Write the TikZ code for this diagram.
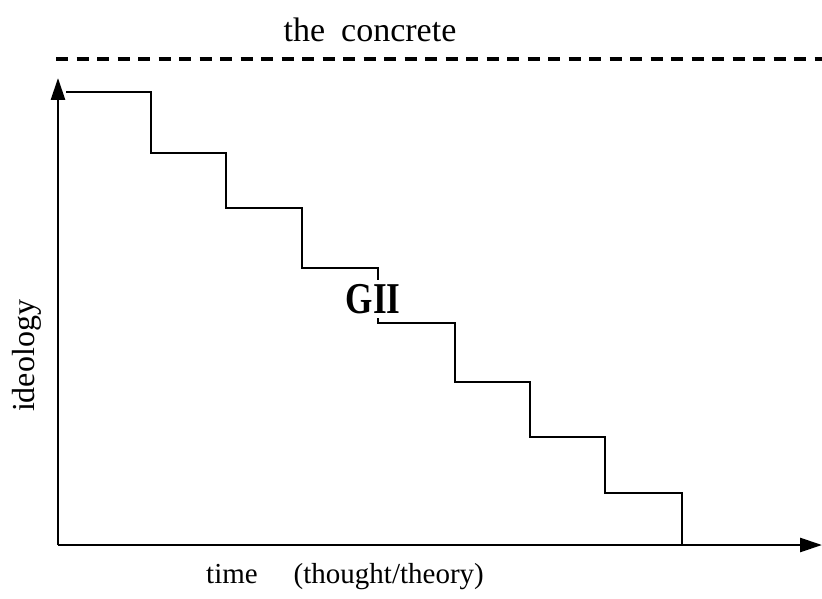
\documentclass[tikz,border=0pt]{standalone}
\usepackage{fontspec}
\setmainfont{Liberation Serif}
\usetikzlibrary{arrows.meta}
\tikzset{
  axis/.style={line width=2.8pt, -{Triangle[length=22pt,width=14pt]}},
  stair/.style={line width=2.5pt, line join=miter},
  lbl/.style={inner sep=0pt, font=\fontsize{32}{38}\selectfont},
  dash line/.style={line width=3.5pt, dash pattern=on 12pt off 8.5pt}
}
\begin{document}
\begin{tikzpicture}[x=1pt,y=-1pt]
\useasboundingbox (0,0) rectangle (822,599);
% dashed "concrete" line
\coordinate (d1) at (56,59);
\coordinate (d2) at (822,59);
\draw[dash line] (d1) -- (d2);
\node[lbl, font=\fontsize{34}{40}\selectfont] (concrete) at (370,30) {the\hspace{16pt}concrete};
% axes
\coordinate (o) at (58,545);
\coordinate (ytip) at (58,78);
\coordinate (xtip) at (822,545);
\draw[axis] (o) -- (ytip);
\draw[axis] (o) -- (xtip);
% staircase
\draw[stair] (66,92) -- (151,92) -- (151,153) -- (226,153) -- (226,208)
  -- (302,208) -- (302,268) -- (378,268) -- (378,323) -- (455,323)
  -- (455,382) -- (530,382) -- (530,437) -- (605,437) -- (605,493)
  -- (682,493) -- (682,545);
\node[fill=white, inner xsep=0pt, inner ysep=4pt, font=\fontsize{44}{50}\selectfont\bfseries] (gii) at (373,299) {\scalebox{0.8}[1]{GII}};
% labels
\node[lbl, rotate=90] (ideology) at (27,356) {ideology};
\node[lbl, font=\fontsize{29}{34}\selectfont] (time) at (345,577) {time\hspace{36pt}(thought/theory)};
\end{tikzpicture}
\end{document}
